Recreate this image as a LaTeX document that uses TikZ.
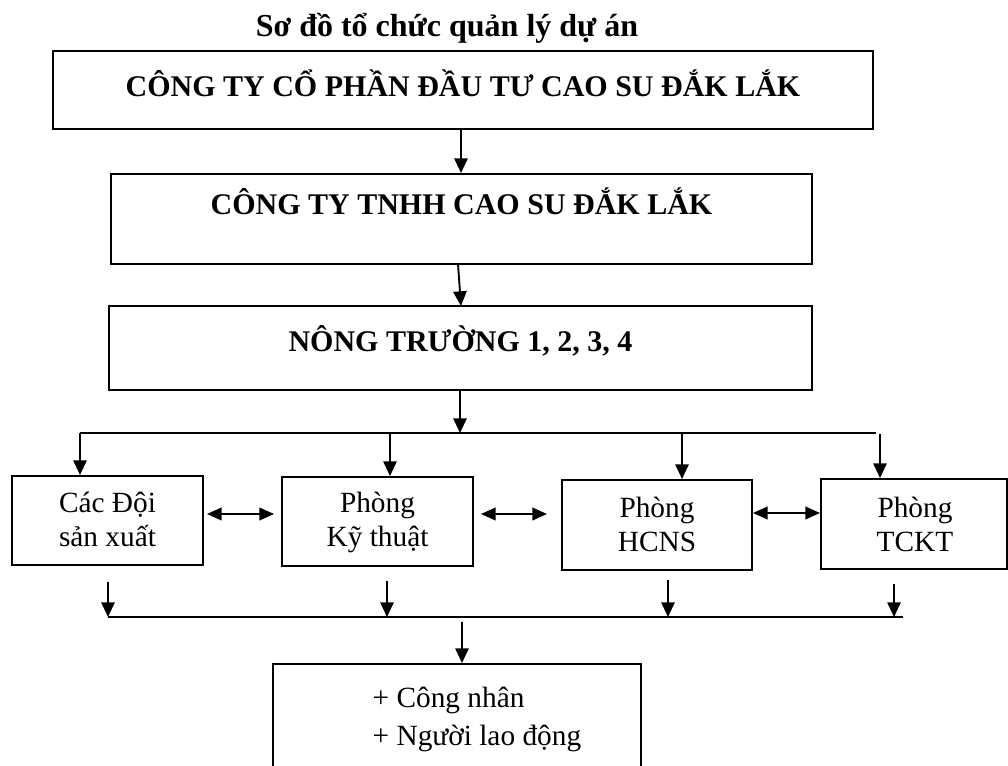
\documentclass[tikz,border=0pt]{standalone}
\usepackage{fontspec}
\setmainfont{Liberation Serif}
\usetikzlibrary{arrows.meta,calc}
\tikzset{
  box/.style={draw, line width=1.5pt, inner sep=0pt},
  bigtxt/.style={font=\fontsize{22.5}{27}\selectfont\bfseries},
  smalltxt/.style={font=\fontsize{22}{25.5}\selectfont},
  arr/.style={-{Triangle[length=11pt,width=10pt]}, line width=1.4pt},
  darr/.style={{Triangle[length=11pt,width=9.5pt]}-{Triangle[length=11pt,width=9.5pt]}, line width=1.4pt},
  plain/.style={line width=1.4pt}
}
\begin{document}
\begin{tikzpicture}[x=0.75pt,y=-0.75pt]
\useasboundingbox (0,0) rectangle (1008,766);
% title
\node[font=\fontsize{24}{28}\selectfont\bfseries, anchor=base] (title) at (447,37) {Sơ đồ tổ chức quản lý dự án};
% main boxes
\node[box, bigtxt, minimum width=615pt, minimum height=58.5pt, text height=15.75pt, text depth=5.25pt] (b1) at (463,90) {CÔNG TY CỔ PHẦN ĐẦU TƯ CAO SU ĐẮK LẮK};
\node[box, bigtxt, minimum width=525.75pt, minimum height=67.5pt, text height=10pt, text depth=16pt] (b2) at (461.5,219) {CÔNG TY TNHH CAO SU ĐẮK LẮK};
\node[box, bigtxt, minimum width=527.25pt, minimum height=63pt, text height=15pt, text depth=9pt] (b3) at (460.5,348) {NÔNG TRƯỜNG 1, 2, 3, 4};
% row boxes
\node[box, minimum width=143.25pt, minimum height=66.75pt] (n1) at (107.5,520.5) {};
\node[box, minimum width=143.25pt, minimum height=66.75pt] (n2) at (377.5,521.5) {};
\node[box, minimum width=142.5pt, minimum height=67.5pt] (n3) at (657,525) {};
\node[box, minimum width=139.5pt, minimum height=67.5pt] (n4) at (914,524) {};
\node[smalltxt, anchor=base] (n1a) at (107.5,513) {Các Đội};
\node[smalltxt, anchor=base] (n1b) at (107.5,547) {sản xuất};
\node[smalltxt, anchor=base] (n2a) at (377.5,513) {Phòng};
\node[smalltxt, anchor=base] (n2b) at (377.5,547) {Kỹ thuật};
\node[smalltxt, anchor=base] (n3a) at (657,518) {Phòng};
\node[smalltxt, anchor=base] (n3b) at (657,552) {HCNS};
\node[smalltxt, anchor=base] (n4a) at (915,518) {Phòng};
\node[smalltxt, anchor=base] (n4b) at (915,552) {TCKT};
% bottom box
\node[box, minimum width=276pt, minimum height=97.5pt, anchor=north] (w) at (457,663) {};
\node[smalltxt, anchor=base west] (w1) at (368,708) {+ Công nhân};
\node[smalltxt, anchor=base west] (w2) at (368,745) {+ Người lao động};
% vertical connectors between main boxes
\coordinate (t2) at (461,129);
\draw[arr] (t2) -- (t2 |- b2.north);
\coordinate (t3a) at (458,264);
\coordinate (t3b) at (461,306);
\draw[arr] (t3a) -- (t3b);
% distribution line
\coordinate (j) at (460,433);
\coordinate (a1) at (80,433);
\coordinate (a2) at (390,433);
\coordinate (a3) at (682,433);
\coordinate (hr) at (876,433);
\coordinate (a4) at (880,434);
\draw[arr] (j |- b3.south) -- (j);
\draw[plain] (a1) -- (hr);
\draw[arr] (a1) -- (a1 |- n1.north);
\draw[arr] (a2) -- (a2 |- n2.north);
\draw[arr] (a3) -- (a3 |- n3.north);
\draw[arr] (a4) -- (a4 |- n4.north);
% double arrows
\draw[darr] ($(n1.east)+(3,-6.5)$) -- ($(n2.west)+(-7,-7.5)$);
\draw[darr] ($(n2.east)+(7,-7.5)$) -- ($(n3.west)+(-14,-11)$);
\draw[darr] ($(n3.east)+(0,-12)$) -- ($(n4.west)+(0,-11)$);
% collecting line
\coordinate (s1) at (108,582);
\coordinate (s2) at (387,581);
\coordinate (s3) at (668,580);
\coordinate (s4) at (894,584);
\coordinate (ll) at (108,617);
\coordinate (lr) at (903,617);
\draw[plain] (ll) -- (lr);
\draw[arr] (s1) -- (s1 |- ll);
\draw[arr] (s2) -- (s2 |- ll);
\draw[arr] (s3) -- (s3 |- ll);
\draw[arr] (s4) -- (s4 |- ll);
\coordinate (m) at (462,622);
\draw[arr] (m) -- (m |- w.north);
\end{tikzpicture}
\end{document}
